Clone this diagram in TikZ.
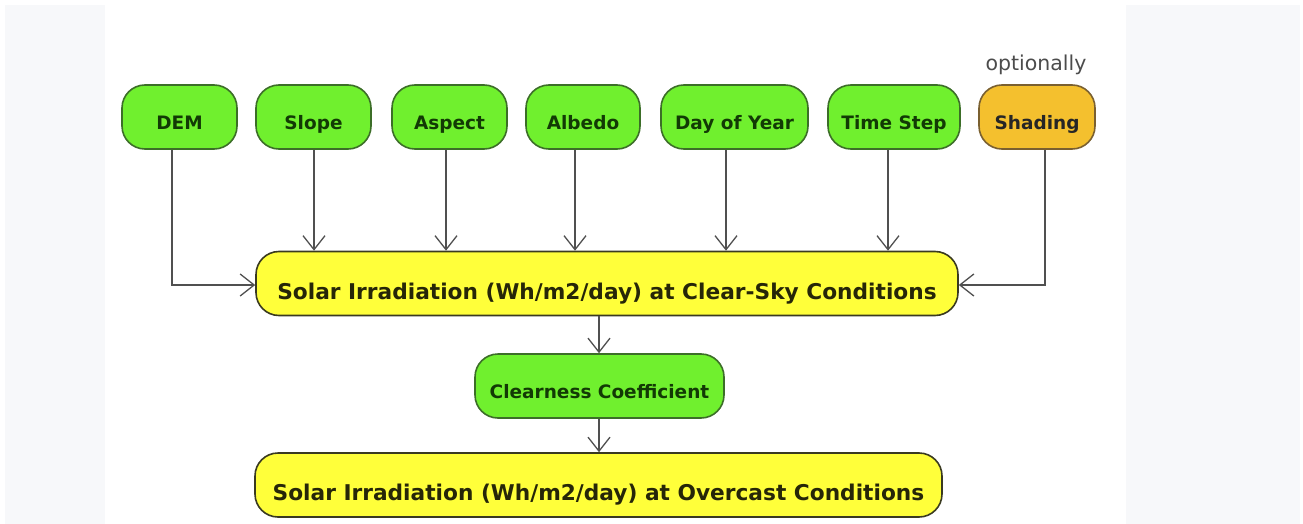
\documentclass[tikz,border=0pt]{standalone}
\usepackage{fontspec}
\setmainfont{DejaVu Sans}
\usetikzlibrary{arrows.meta,positioning,calc}
\definecolor{gfill}{HTML}{70F02E}
\definecolor{gdraw}{HTML}{3C6E28}
\definecolor{gtext}{HTML}{123A05}
\definecolor{yfill}{HTML}{FFFF3A}
\definecolor{ydraw}{HTML}{3A3A20}
\definecolor{ytext}{HTML}{262608}
\definecolor{ofill}{HTML}{F4C02E}
\definecolor{odraw}{HTML}{7A6030}
\definecolor{sidebg}{HTML}{F7F8FA}
\definecolor{linec}{HTML}{505050}
\tikzset{
  inbox/.style={draw=gdraw, fill=gfill, line width=1.6pt, rounded corners=23pt,
    minimum height=64pt, inner sep=0pt, text=gtext, text height=24pt, text depth=0pt,
    font=\fontsize{18.5}{20}\selectfont\bfseries},
  optbox/.style={inbox, draw=odraw, fill=ofill, text=black!85},
  ybox/.style={draw=ydraw, fill=yfill, line width=1.6pt, rounded corners=23pt,
    minimum height=64pt, inner sep=0pt, text=ytext, text height=31pt, text depth=0pt,
    font=\fontsize{21.7}{24}\selectfont\bfseries},
  conn/.style={draw=linec, line width=1.3pt, -{Straight Barb[length=14pt,width=22pt,line width=1.3pt]}},
}
\begin{document}
\begin{tikzpicture}[x=1pt,y=-1pt]
\useasboundingbox (0,0) rectangle (1303,524);
\fill[sidebg] (5,5) rectangle (105,524);
\fill[sidebg] (1126,5) rectangle (1300,524);

\node[inbox, minimum width=115pt] (dem)    at (179.5,117) {DEM};
\node[inbox, minimum width=115pt] (slope)  at (313.5,117) {Slope};
\node[inbox, minimum width=115pt] (aspect) at (449.5,117) {Aspect};
\node[inbox, minimum width=114pt] (albedo) at (583,117) {Albedo};
\node[inbox, minimum width=147pt] (doy)    at (734.5,117) {Day of Year};
\node[inbox, minimum width=132pt] (tstep)  at (894,117) {Time Step};
\node[optbox, minimum width=116pt] (shade) at (1037,117) {Shading};
\node[text=black!70, font=\fontsize{20.5}{22}\selectfont, anchor=base, inner sep=0pt] (opt) at (1036,71) {optionally};

\node[ybox, minimum width=702pt] (clear) at (607,283.5) {Solar Irradiation (Wh/m2/day) at Clear-Sky Conditions};
\node[inbox, minimum width=249pt] (cc) at (599.5,386) {Clearness Coefficient};
\node[ybox, minimum width=687pt, text height=30pt] (over) at (598.5,485) {Solar Irradiation (Wh/m2/day) at Overcast Conditions};

\coordinate (demturn) at ([xshift=-7.5pt]dem.south |- 0,285);
\draw[conn] ([xshift=-7.5pt]dem.south) -- (demturn) -- (clear.west |- demturn);
\draw[conn] ([xshift=0.5pt]slope.south) -- ([xshift=0.5pt]slope.south |- clear.north);
\draw[conn] ([xshift=-3.5pt]aspect.south) -- ([xshift=-3.5pt]aspect.south |- clear.north);
\draw[conn] ([xshift=-8pt]albedo.south) -- ([xshift=-8pt]albedo.south |- clear.north);
\draw[conn] ([xshift=-8.5pt]doy.south) -- ([xshift=-8.5pt]doy.south |- clear.north);
\draw[conn] ([xshift=-6pt]tstep.south) -- ([xshift=-6pt]tstep.south |- clear.north);
\coordinate (shturn) at ([xshift=8pt]shade.south |- 0,285);
\draw[conn] ([xshift=8pt]shade.south) -- (shturn) -- (clear.east |- shturn);
\draw[conn] ([xshift=-0.5pt]clear.south -| cc.north) -- ([xshift=-0.5pt]cc.north);
\draw[conn] ([xshift=-0.5pt]cc.south) -- ([xshift=-0.5pt]cc.south |- over.north);
\end{tikzpicture}
\end{document}
